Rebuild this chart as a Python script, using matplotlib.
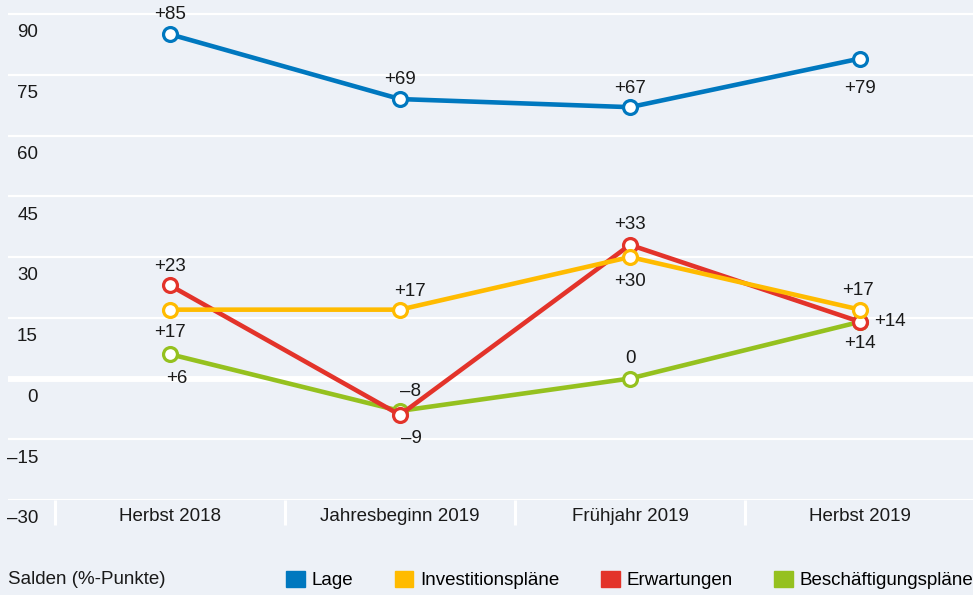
import matplotlib
matplotlib.use("Agg")
import matplotlib.pyplot as plt
from matplotlib.patches import Patch

plt.rcParams['font.family'] = ['Liberation Sans', 'DejaVu Sans']

# 数据
categories = ["Herbst 2018", "Jahresbeginn 2019", "Frühjahr 2019", "Herbst 2019"]
lage = [85, 69, 67, 79]
investition = [17, 17, 30, 17]
erwartungen = [23, -9, 33, 14]
beschaeftigung = [6, -8, 0, 14]
y_ticks = [-30, -15, 0, 15, 30, 45, 60, 75, 90]

bg = '#edf1f7'
c_lage = '#0078bf'
c_inv = '#ffbb00'
c_erw = '#e3332a'
c_bes = '#95c11f'
fs = 13.5

fig = plt.figure(figsize=(9.73, 5.95), dpi=100, facecolor=bg)
ax = fig.add_axes([8 / 973, 95 / 595, 1 - 8 / 973, 500 / 595])
ax.set_facecolor(bg)
ax.set_xlim(-0.704, 3.491)
ax.set_ylim(-30, 93.46)

# 网格
ax.set_yticks(y_ticks)
ax.yaxis.grid(True, color='white', linewidth=1.6)
ax.axhline(0, color='white', linewidth=4.3, zorder=1)
ax.set_axisbelow(True)
ax.tick_params(axis='y', length=0, labelleft=False)
for v in y_ticks:
    lab = f"{v}".replace('-', '–')
    ax.annotate(lab, xy=(0, v), xycoords=('axes fraction', 'data'),
                xytext=(21.6, -13.5), textcoords='offset points',
                ha='right', va='center', fontsize=fs, color='#1a1a1a')

# x 轴：分隔线 + 类别标签
ax.set_xticks([-0.5, 0.5, 1.5, 2.5])
ax.set_xticks(range(len(categories)), minor=True)
ax.set_xticklabels(categories, minor=True, fontsize=fs, color='#1a1a1a')
ax.tick_params(axis='x', which='major', length=18, width=2.2, color='white',
               labelbottom=False, direction='out')
ax.tick_params(axis='x', which='minor', length=0, pad=6)
for s in ax.spines.values():
    s.set_visible(False)

x = list(range(len(categories)))
style = dict(linewidth=3.3, marker='o', markersize=10, markerfacecolor='white',
             markeredgewidth=2.3, zorder=3, clip_on=False)
ax.plot(x, lage, color=c_lage, **style)
ax.plot(x, beschaeftigung, color=c_bes, **style)
ax.plot(x, erwartungen, color=c_erw, **style)
ax.plot(x, investition, color=c_inv, **style)

def lab(v):
    return "0" if v == 0 else (f"+{v}" if v > 0 else f"–{abs(v)}")

# 数据标签偏移 (px, 向上为正)
off_lage = [(0, 20), (0, 20), (0, 19), (0, -30)]
off_erw = [(0, 19), (11, -24), (0, 20), (30, 0)]
off_inv = [(0, -23), (10, 18), (0, -24), (-2, 19)]
off_bes = [(7, -24), (11, 19), (0, 20), (0, -22)]
for vals, offs in [(lage, off_lage), (erwartungen, off_erw),
                   (investition, off_inv), (beschaeftigung, off_bes)]:
    for xi, v, (dx, dy) in zip(x, vals, offs):
        ax.annotate(lab(v), xy=(xi, v), xytext=(dx * 0.72, dy * 0.72),
                    textcoords='offset points', ha='center', va='center',
                    fontsize=fs, color='#1a1a1a', zorder=5)

# 图例
fig.text(8 / 973, 1 - 580 / 595, "Salden (%-Punkte)", ha='left', va='center',
         fontsize=fs, color='#1a1a1a')
handles = [Patch(color=c_lage), Patch(color=c_inv), Patch(color=c_erw), Patch(color=c_bes)]
names = ["Lage", "Investitionspläne", "Erwartungen", "Beschäftigungspläne"]
fig.legend(handles, names, loc='center left', bbox_to_anchor=(286 / 973, 1 - 580 / 595),
           ncol=4, frameon=False, fontsize=fs, handlelength=1.0, handleheight=1.0,
           handletextpad=0.37, columnspacing=2.2, borderpad=0, borderaxespad=0)

fig.savefig("out.png", dpi=100, facecolor=bg)
